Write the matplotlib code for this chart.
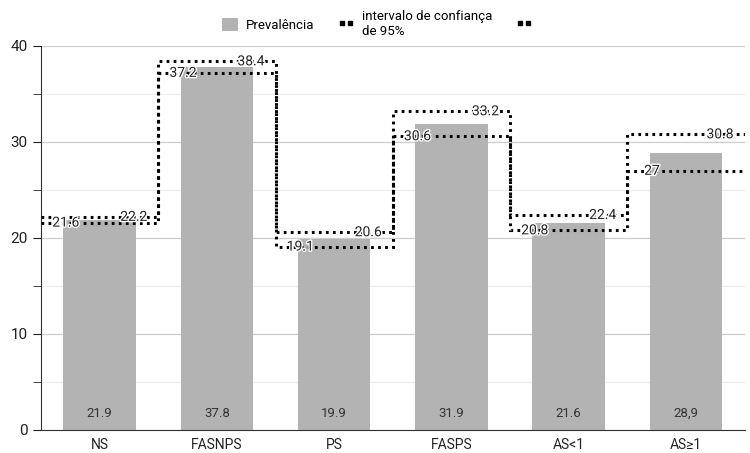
import matplotlib.pyplot as plt
import matplotlib.patheffects as pe
from matplotlib.ticker import MultipleLocator
from matplotlib.lines import Line2D
from matplotlib.patches import Patch
import numpy as np

# Daten
categories = ["NS", "FASNPS", "PS", "FASPS", "AS<1", "AS≥1"]
prevalence = [21.9, 37.8, 19.9, 31.9, 21.6, 28.9]
prevalence_labels = ["21.9", "37.8", "19.9", "31.9", "21.6", "28,9"]
ci_lower = [21.6, 37.2, 19.1, 30.6, 20.8, 27]
ci_upper = [22.2, 38.4, 20.6, 33.2, 22.4, 30.8]

plt.rcParams["font.family"] = ["Roboto", "DejaVu Sans"]

fig = plt.figure(figsize=(7.5, 4.53), dpi=100)
ax = fig.add_axes([0.0547, 0.0508, 0.938, 0.8477])

x = np.arange(len(categories))
edges = np.arange(len(categories) + 1) - 0.5

ax.bar(x, prevalence, width=0.62, color="#b3b3b3", zorder=2)

dot_style = dict(color="black", linewidth=2.2, linestyle=(0, (0.9, 1.4)), zorder=3)
ax.stairs(ci_upper, edges, baseline=None, **dot_style)
ax.stairs(ci_lower, edges, baseline=None, **dot_style)

halo = [pe.withStroke(linewidth=2, foreground="white")]
for i in range(len(categories)):
    ax.text(i, 1.7, prevalence_labels[i], ha="center", va="center", fontsize=9.5, color="#333333", zorder=4)
    ax.text(i - 0.29, ci_lower[i], f"{ci_lower[i]:g}", ha="center", va="center", fontsize=10,
            color="#222222", path_effects=halo, zorder=4)
    ax.text(i + 0.29, ci_upper[i], f"{ci_upper[i]:g}", ha="center", va="center", fontsize=10,
            color="#222222", path_effects=halo, zorder=4)

ax.set_xlim(-0.5, len(categories) - 0.5)
ax.set_ylim(0, 40)
ax.set_xticks(x)
ax.set_xticklabels(categories, fontsize=10, color="#222222")
ax.tick_params(axis="x", length=0, pad=6)
ax.yaxis.set_major_locator(MultipleLocator(10))
ax.yaxis.set_minor_locator(MultipleLocator(5))
ax.tick_params(axis="y", which="both", length=6, labelsize=11, colors="#222222")
ax.grid(True, axis="y", which="major", color="#cccccc", linewidth=0.9, zorder=0)
ax.grid(True, axis="y", which="minor", color="#ececec", linewidth=0.9, zorder=0)
ax.set_axisbelow(True)
for side in ["top", "right"]:
    ax.spines[side].set_visible(False)
ax.spines["left"].set_color("#333333")
ax.spines["bottom"].set_color("#333333")

# Legende: Balken, obere und untere Grenze des Konfidenzintervalls
dots = dict(color="black", linestyle="none", marker="s", markersize=3.2)
handles = [
    Patch(facecolor="#b3b3b3", edgecolor="none"),
    Line2D([], [], **dots),
    Line2D([], [], **dots),
]
labels = ["Prevalência", "intervalo de confiança\nde 95%", " "]
ax.legend(handles, labels, loc="lower center", bbox_to_anchor=(0.485, 1.0), ncol=3, frameon=False,
          fontsize=9.5, numpoints=2, handlelength=1.2, handleheight=1.2, handletextpad=0.6,
          columnspacing=1.8, borderaxespad=0.2)

fig.savefig("out.png", dpi=100)
